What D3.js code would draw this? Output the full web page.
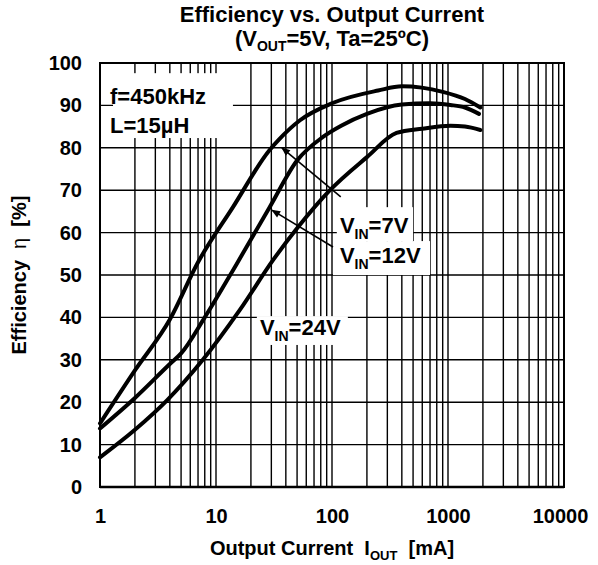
<!DOCTYPE html>
<html>
<head>
<meta charset="utf-8">
<script src="https://cdn.jsdelivr.net/npm/d3@7"></script>
<style>
  html, body { margin: 0; padding: 0; background: #fff; }
  svg { display: block; font-family: "Liberation Sans", Arial, sans-serif; }
  text { white-space: pre; }
</style>
</head>
<body>
<svg id="chart" width="598" height="565"></svg>
<script>
// Efficiency curves, [output current mA, efficiency %]
const vin7 = [[1,15],[2,27.5],[4,39.5],[7,53],[14,66],[29,79.5],[35,82],[53,86.5],[100,90.5],[250,93.5],[400,94.5],[900,93.2],[1400,91.5],[1900,89.5]];
const vin12 = [[1,13.8],[2,21],[4,29],[5,31.5],[8,40],[15,52.5],[29,66],[50,77],[83,82.5],[120,85.2],[200,88],[400,90.2],[700,90.5],[1050,90.1],[1400,89.5],[1850,88]];
const vin24 = [[1,7],[2,13.5],[3.8,20.5],[7.7,30],[16,41.7],[31,53.5],[50,61],[96,70],[200,77.8],[360,83.5],[600,84.5],[1050,85.2],[1400,85],[1900,84.2]];

const xTicks = [1, 10, 100, 1000, 10000];
const yTicks = [0, 10, 20, 30, 40, 50, 60, 70, 80, 90, 100];

const svg = d3.select("#chart");
const margin = {left: 100, right: 34, top: 63, bottom: 78};
const W = 598, H = 565;

const x = d3.scaleLog().domain([1, 10000]).range([margin.left, W - margin.right]);
const y = d3.scaleLinear().domain([0, 100]).range([H - margin.bottom, margin.top]);

// Vertical grid: every 1..9 within each decade
const minor = [];
for (let d = 1; d < 10000; d *= 10) for (let k = 1; k <= 9; k++) minor.push(d * k);
minor.push(10000);

const grid = svg.append("g").attr("stroke", "#000").attr("stroke-width", 1.4);
grid.selectAll("line.v").data(minor).join("line").attr("class", "v")
  .attr("x1", d => x(d)).attr("x2", d => x(d))
  .attr("y1", y(0)).attr("y2", y(100));
grid.selectAll("line.h").data(yTicks).join("line").attr("class", "h")
  .attr("x1", x(1)).attr("x2", x(10000))
  .attr("y1", d => y(d)).attr("y2", d => y(d));

// White backgrounds under annotation text
const boxes = [
  {x0: 1.295, x1: 14.0, y0: 97.6, y1: 82.3},
  {x0: 110, x1: 500, y0: 66.0, y1: 58.0},
  {x0: 102, x1: 700, y0: 58.0, y1: 50.0},
  {x0: 22.5, x1: 137, y0: 40.3, y1: 33.5}
];
svg.append("g").selectAll("rect").data(boxes).join("rect")
  .attr("x", d => x(d.x0)).attr("y", d => y(d.y0))
  .attr("width", d => x(d.x1) - x(d.x0)).attr("height", d => y(d.y1) - y(d.y0))
  .attr("fill", "#fff");

// Plot frame
svg.append("rect")
  .attr("x", x(1)).attr("y", y(100))
  .attr("width", x(10000) - x(1)).attr("height", y(0) - y(100))
  .attr("fill", "none").attr("stroke", "#000").attr("stroke-width", 2);
svg.append("line").attr("x1", x(1)).attr("x2", x(10000)).attr("y1", y(0)).attr("y2", y(0))
  .attr("stroke", "#000").attr("stroke-width", 2.5);

// Axes
const xAxis = d3.axisBottom(x).tickValues(xTicks).tickFormat(d3.format("d")).tickSize(0).tickPadding(22);
const yAxis = d3.axisLeft(y).tickValues(yTicks).tickSize(0).tickPadding(18);
const gx = svg.append("g").attr("transform", `translate(0,${y(0)})`).call(xAxis);
const gy = svg.append("g").attr("transform", `translate(${x(1)},0)`).call(yAxis);
[gx, gy].forEach(g => {
  g.select(".domain").remove();
  g.selectAll("text").attr("font-size", 20).attr("font-weight", "bold")
    .attr("fill", "#000").attr("font-family", "Liberation Sans, Arial, sans-serif");
});
gx.selectAll(".tick").filter(d => d === 10000).select("text").attr("dx", -4);

// Curves
const line = d3.line().x(d => x(d[0])).y(d => y(d[1])).curve(d3.curveMonotoneX);
svg.append("g").selectAll("path").data([vin7, vin12, vin24]).join("path")
  .attr("d", line).attr("fill", "none").attr("stroke", "#000")
  .attr("stroke-width", 4).attr("stroke-linecap", "round").attr("stroke-linejoin", "round");

// Arrows pointing from labels to curves
svg.append("defs").append("marker")
  .attr("id", "arrow").attr("viewBox", "0 0 10 10").attr("refX", 9).attr("refY", 5)
  .attr("markerWidth", 10).attr("markerHeight", 9).attr("orient", "auto-start-reverse")
  .attr("markerUnits", "userSpaceOnUse")
  .append("path").attr("d", "M0,1 L10,5 L0,9 Z").attr("fill", "#000");
const arrows = [
  {from: [119, 68.4], to: [37, 80]},
  {from: [102, 56.6], to: [30.4, 65.3]}
];
svg.append("g").selectAll("line").data(arrows).join("line")
  .attr("x1", d => x(d.from[0])).attr("y1", d => y(d.from[1]))
  .attr("x2", d => x(d.to[0])).attr("y2", d => y(d.to[1]))
  .attr("stroke", "#000").attr("stroke-width", 1.6).attr("marker-end", "url(#arrow)");

// Annotation text
function label(xv, yv, parts) {
  const t = svg.append("text").attr("x", x(xv)).attr("y", y(yv))
    .attr("font-size", 22).attr("font-weight", "bold").attr("fill", "#000");
  parts.forEach(p => {
    if (p.sub) {
      t.append("tspan").attr("font-size", 14).attr("dy", 6).text(p.t);
    } else {
      t.append("tspan").attr("dy", p.back ? -6 : 0).text(p.t);
    }
  });
  return t;
}
label(1.22, 90.3, [{t: "f=450kHz"}]);
label(1.22, 83.6, [{t: "L=15"}, {t: "\u00b5"}, {t: "H"}]);
label(117, 59.9, [{t: "V"}, {t: "IN", sub: true}, {t: "=7V", back: true}]);
label(117, 52.8, [{t: "V"}, {t: "IN", sub: true}, {t: "=12V", back: true}]);
label(23.9, 35.8, [{t: "V"}, {t: "IN", sub: true}, {t: "=24V", back: true}]);

// Titles
const cx = (x(1) + x(10000)) / 2;
svg.append("text").attr("x", cx).attr("y", 22).attr("text-anchor", "middle")
  .attr("font-size", 22).attr("font-weight", "bold").text("Efficiency vs. Output Current");
const t2 = svg.append("text").attr("x", cx).attr("y", 46).attr("text-anchor", "middle")
  .attr("font-size", 22).attr("font-weight", "bold");
t2.append("tspan").text("(V");
t2.append("tspan").attr("font-size", 14).attr("dy", 5).text("OUT");
t2.append("tspan").attr("dy", -5).text("=5V, Ta=25ºC)");

const xl = svg.append("text").attr("x", cx).attr("y", 555).attr("text-anchor", "middle")
  .attr("font-size", 20).attr("font-weight", "bold");
xl.append("tspan").text("Output Current  I");
xl.append("tspan").attr("font-size", 13).attr("dy", 5).text("OUT");
xl.append("tspan").attr("dy", -5).text("  [mA]");

const yl = svg.append("text").attr("transform", `translate(26,${(y(0) + y(100)) / 2}) rotate(-90)`)
  .attr("text-anchor", "middle").attr("font-size", 20).attr("font-weight", "bold");
yl.append("tspan").text("Efficiency  ");
yl.append("tspan").attr("font-weight", "normal").text("\u03b7");
yl.append("tspan").text("  [%]");
</script>
</body>
</html>
